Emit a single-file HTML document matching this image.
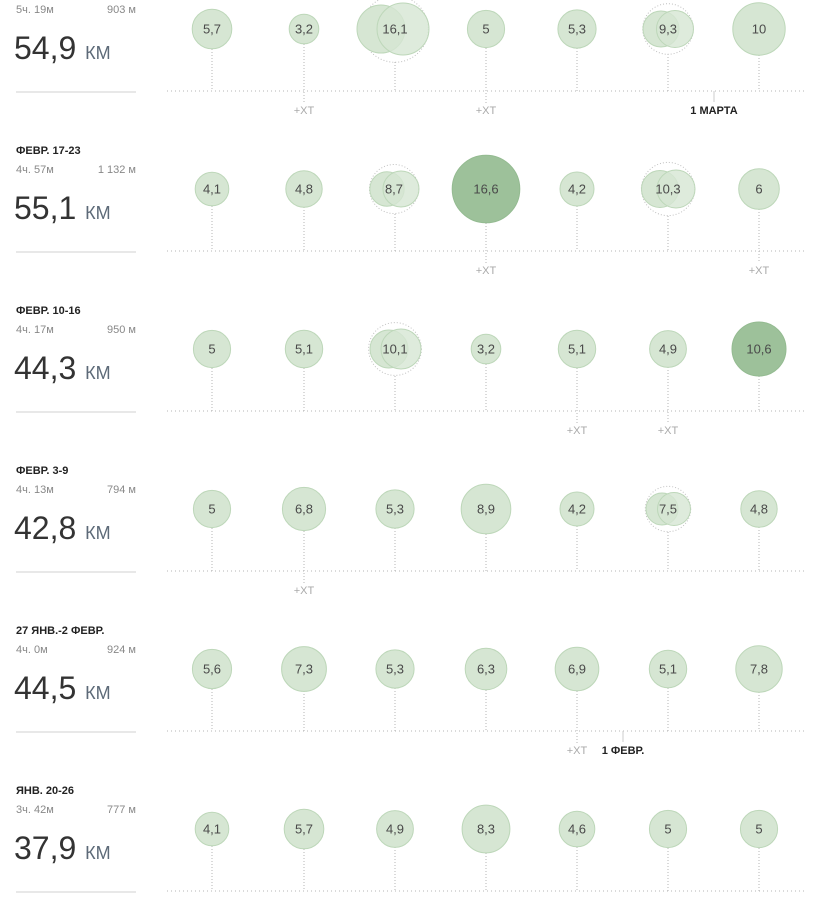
<!DOCTYPE html>
<html><head><meta charset="utf-8"><style>
html,body{margin:0;padding:0;background:#fff;}
svg{display:block;font-family:"Liberation Sans",sans-serif;}
.b{fill:#d6e6d3;stroke:#bdd7b9;stroke-width:1}
.d{fill:#9dc19a;stroke:#94bb91;stroke-width:1}
.o{fill:none;stroke:#c0c0c0;stroke-width:1;stroke-dasharray:1 2}
.s{stroke:#b5b5b5;stroke-width:1;stroke-dasharray:1 2}
.bl{stroke:#b5b5b5;stroke-width:1;stroke-dasharray:1 3}
.n{font-size:13px;fill:#4a4a4a;text-anchor:middle;dominant-baseline:central}
.x{font-size:11px;fill:#aaa;text-anchor:middle;dominant-baseline:central}
.t{font-size:11px;font-weight:bold;fill:#222;dominant-baseline:central}
.g{font-size:11px;fill:#888;dominant-baseline:central}
.big{font-size:32px;fill:#333}
.km{font-size:18px;fill:#5d6a78}
.r{stroke:#e8e8e8;stroke-width:2}
</style></head><body>
<svg width="818" height="901" viewBox="0 0 818 901">
<!-- ROW 0 cy=29 -->
<g>
<text class="g" x="16" y="10">5ч. 19м</text><text class="g" x="136" y="10" text-anchor="end">903 м</text>
<text class="big" x="14" y="59">54,9 <tspan class="km">КМ</tspan></text>
<line class="r" x1="16" y1="92" x2="136" y2="92"/>
<line class="bl" x1="167" y1="91" x2="805" y2="91"/>
<line class="s" x1="212" y1="49" x2="212" y2="91"/><circle class="b" cx="212" cy="29" r="19.8"/><text class="n" x="212" y="29">5,7</text>
<line class="s" x1="304" y1="44" x2="304" y2="103"/><circle class="b" cx="304" cy="29" r="14.8"/><text class="n" x="304" y="29">3,2</text>
<line class="s" x1="395" y1="62" x2="395" y2="91"/><circle class="o" cx="395" cy="29" r="33.3"/><circle class="b" cx="381" cy="29" r="24"/><circle class="b" cx="403" cy="29" r="26" fill-opacity="0.8"/><text class="n" x="395" y="29">16,1</text>
<line class="s" x1="486" y1="48" x2="486" y2="103"/><circle class="b" cx="486" cy="29" r="18.6"/><text class="n" x="486" y="29">5</text>
<line class="s" x1="577" y1="48" x2="577" y2="91"/><circle class="b" cx="577" cy="29" r="19.1"/><text class="n" x="577" y="29">5,3</text>
<line class="s" x1="668" y1="54" x2="668" y2="91"/><circle class="o" cx="668" cy="29" r="25.3"/><circle class="b" cx="661" cy="29" r="18"/><circle class="b" cx="675" cy="29" r="18.5" fill-opacity="0.8"/><text class="n" x="668" y="29">9,3</text>
<line class="s" x1="759" y1="55" x2="759" y2="91"/><circle class="b" cx="759" cy="29" r="26.2"/><text class="n" x="759" y="29">10</text>
<text class="x" x="304" y="111">+ХТ</text><text class="x" x="486" y="111">+ХТ</text>
<line x1="714" y1="91" x2="714" y2="102" stroke="#ccc"/><text class="t" x="714" y="111" text-anchor="middle">1 МАРТА</text>
</g>
<!-- ROW 1 cy=189 -->
<g>
<text class="t" x="16" y="151">ФЕВР. 17-23</text>
<text class="g" x="16" y="170">4ч. 57м</text><text class="g" x="136" y="170" text-anchor="end">1 132 м</text>
<text class="big" x="14" y="219">55,1 <tspan class="km">КМ</tspan></text>
<line class="r" x1="16" y1="252" x2="136" y2="252"/>
<line class="bl" x1="167" y1="251" x2="805" y2="251"/>
<line class="s" x1="212" y1="206" x2="212" y2="251"/><circle class="b" cx="212" cy="189" r="16.8"/><text class="n" x="212" y="189">4,1</text>
<line class="s" x1="304" y1="207" x2="304" y2="251"/><circle class="b" cx="304" cy="189" r="18.2"/><text class="n" x="304" y="189">4,8</text>
<line class="s" x1="395" y1="214" x2="395" y2="251"/><circle class="o" cx="394" cy="189" r="24.5"/><circle class="b" cx="387" cy="189" r="17.2"/><circle class="b" cx="401" cy="189" r="18" fill-opacity="0.8"/><text class="n" x="394" y="189">8,7</text>
<line class="s" x1="486" y1="223" x2="486" y2="263"/><circle class="d" cx="486" cy="189" r="33.8"/><text class="n" x="486" y="189">16,6</text>
<line class="s" x1="577" y1="206" x2="577" y2="251"/><circle class="b" cx="577" cy="189" r="17"/><text class="n" x="577" y="189">4,2</text>
<line class="s" x1="668" y1="216" x2="668" y2="251"/><circle class="o" cx="668" cy="189" r="26.6"/><circle class="b" cx="660" cy="189" r="18.5"/><circle class="b" cx="676" cy="189" r="19" fill-opacity="0.8"/><text class="n" x="668" y="189">10,3</text>
<line class="s" x1="759" y1="209" x2="759" y2="263"/><circle class="b" cx="759" cy="189" r="20.3"/><text class="n" x="759" y="189">6</text>
<text class="x" x="486" y="271">+ХТ</text><text class="x" x="759" y="271">+ХТ</text>
</g>
<!-- ROW 2 cy=349 -->
<g>
<text class="t" x="16" y="311">ФЕВР. 10-16</text>
<text class="g" x="16" y="330">4ч. 17м</text><text class="g" x="136" y="330" text-anchor="end">950 м</text>
<text class="big" x="14" y="379">44,3 <tspan class="km">КМ</tspan></text>
<line class="r" x1="16" y1="412" x2="136" y2="412"/>
<line class="bl" x1="167" y1="411" x2="805" y2="411"/>
<line class="s" x1="212" y1="368" x2="212" y2="411"/><circle class="b" cx="212" cy="349" r="18.6"/><text class="n" x="212" y="349">5</text>
<line class="s" x1="304" y1="368" x2="304" y2="411"/><circle class="b" cx="304" cy="349" r="18.7"/><text class="n" x="304" y="349">5,1</text>
<line class="s" x1="395" y1="376" x2="395" y2="411"/><circle class="o" cx="395" cy="349" r="26.4"/><circle class="b" cx="389" cy="349" r="19"/><circle class="b" cx="401" cy="349" r="20" fill-opacity="0.8"/><text class="n" x="395" y="349">10,1</text>
<line class="s" x1="486" y1="364" x2="486" y2="411"/><circle class="b" cx="486" cy="349" r="14.8"/><text class="n" x="486" y="349">3,2</text>
<line class="s" x1="577" y1="368" x2="577" y2="423"/><circle class="b" cx="577" cy="349" r="18.7"/><text class="n" x="577" y="349">5,1</text>
<line class="s" x1="668" y1="367" x2="668" y2="423"/><circle class="b" cx="668" cy="349" r="18.4"/><text class="n" x="668" y="349">4,9</text>
<line class="s" x1="759" y1="376" x2="759" y2="411"/><circle class="d" cx="759" cy="349" r="27"/><text class="n" x="759" y="349">10,6</text>
<text class="x" x="577" y="431">+ХТ</text><text class="x" x="668" y="431">+ХТ</text>
</g>
<!-- ROW 3 cy=509 -->
<g>
<text class="t" x="16" y="471">ФЕВР. 3-9</text>
<text class="g" x="16" y="490">4ч. 13м</text><text class="g" x="136" y="490" text-anchor="end">794 м</text>
<text class="big" x="14" y="539">42,8 <tspan class="km">КМ</tspan></text>
<line class="r" x1="16" y1="572" x2="136" y2="572"/>
<line class="bl" x1="167" y1="571" x2="805" y2="571"/>
<line class="s" x1="212" y1="528" x2="212" y2="571"/><circle class="b" cx="212" cy="509" r="18.6"/><text class="n" x="212" y="509">5</text>
<line class="s" x1="304" y1="531" x2="304" y2="583"/><circle class="b" cx="304" cy="509" r="21.6"/><text class="n" x="304" y="509">6,8</text>
<line class="s" x1="395" y1="528" x2="395" y2="571"/><circle class="b" cx="395" cy="509" r="19.1"/><text class="n" x="395" y="509">5,3</text>
<line class="s" x1="486" y1="534" x2="486" y2="571"/><circle class="b" cx="486" cy="509" r="24.8"/><text class="n" x="486" y="509">8,9</text>
<line class="s" x1="577" y1="526" x2="577" y2="571"/><circle class="b" cx="577" cy="509" r="17"/><text class="n" x="577" y="509">4,2</text>
<line class="s" x1="668" y1="532" x2="668" y2="571"/><circle class="o" cx="668" cy="509" r="22.7"/><circle class="b" cx="662" cy="509" r="16"/><circle class="b" cx="674" cy="509" r="16.5" fill-opacity="0.8"/><text class="n" x="668" y="509">7,5</text>
<line class="s" x1="759" y1="527" x2="759" y2="571"/><circle class="b" cx="759" cy="509" r="18.2"/><text class="n" x="759" y="509">4,8</text>
<text class="x" x="304" y="591">+ХТ</text>
</g>
<!-- ROW 4 cy=669 -->
<g>
<text class="t" x="16" y="631">27 ЯНВ.-2 ФЕВР.</text>
<text class="g" x="16" y="650">4ч. 0м</text><text class="g" x="136" y="650" text-anchor="end">924 м</text>
<text class="big" x="14" y="699">44,5 <tspan class="km">КМ</tspan></text>
<line class="r" x1="16" y1="732" x2="136" y2="732"/>
<line class="bl" x1="167" y1="731" x2="805" y2="731"/>
<line class="s" x1="212" y1="689" x2="212" y2="731"/><circle class="b" cx="212" cy="669" r="19.6"/><text class="n" x="212" y="669">5,6</text>
<line class="s" x1="304" y1="691" x2="304" y2="731"/><circle class="b" cx="304" cy="669" r="22.4"/><text class="n" x="304" y="669">7,3</text>
<line class="s" x1="395" y1="688" x2="395" y2="731"/><circle class="b" cx="395" cy="669" r="19.1"/><text class="n" x="395" y="669">5,3</text>
<line class="s" x1="486" y1="690" x2="486" y2="731"/><circle class="b" cx="486" cy="669" r="20.8"/><text class="n" x="486" y="669">6,3</text>
<line class="s" x1="577" y1="691" x2="577" y2="743"/><circle class="b" cx="577" cy="669" r="21.8"/><text class="n" x="577" y="669">6,9</text>
<line class="s" x1="668" y1="688" x2="668" y2="731"/><circle class="b" cx="668" cy="669" r="18.7"/><text class="n" x="668" y="669">5,1</text>
<line class="s" x1="759" y1="692" x2="759" y2="731"/><circle class="b" cx="759" cy="669" r="23.2"/><text class="n" x="759" y="669">7,8</text>
<text class="x" x="577" y="751">+ХТ</text>
<line x1="623" y1="731" x2="623" y2="742" stroke="#ccc"/><text class="t" x="623" y="751" text-anchor="middle">1 ФЕВР.</text>
</g>
<!-- ROW 5 cy=829 -->
<g>
<text class="t" x="16" y="791">ЯНВ. 20-26</text>
<text class="g" x="16" y="810">3ч. 42м</text><text class="g" x="136" y="810" text-anchor="end">777 м</text>
<text class="big" x="14" y="859">37,9 <tspan class="km">КМ</tspan></text>
<line class="r" x1="16" y1="892" x2="136" y2="892"/>
<line class="bl" x1="167" y1="891" x2="805" y2="891"/>
<line class="s" x1="212" y1="846" x2="212" y2="891"/><circle class="b" cx="212" cy="829" r="16.8"/><text class="n" x="212" y="829">4,1</text>
<line class="s" x1="304" y1="849" x2="304" y2="891"/><circle class="b" cx="304" cy="829" r="19.8"/><text class="n" x="304" y="829">5,7</text>
<line class="s" x1="395" y1="847" x2="395" y2="891"/><circle class="b" cx="395" cy="829" r="18.4"/><text class="n" x="395" y="829">4,9</text>
<line class="s" x1="486" y1="853" x2="486" y2="891"/><circle class="b" cx="486" cy="829" r="23.9"/><text class="n" x="486" y="829">8,3</text>
<line class="s" x1="577" y1="847" x2="577" y2="891"/><circle class="b" cx="577" cy="829" r="17.8"/><text class="n" x="577" y="829">4,6</text>
<line class="s" x1="668" y1="848" x2="668" y2="891"/><circle class="b" cx="668" cy="829" r="18.6"/><text class="n" x="668" y="829">5</text>
<line class="s" x1="759" y1="848" x2="759" y2="891"/><circle class="b" cx="759" cy="829" r="18.6"/><text class="n" x="759" y="829">5</text>
</g>
</svg>
</body></html>
